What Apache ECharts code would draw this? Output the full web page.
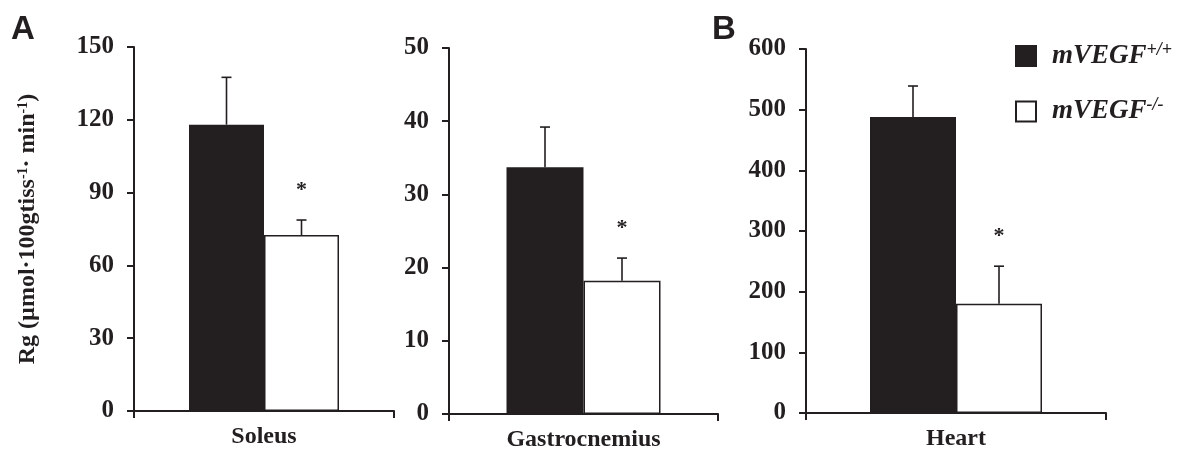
<!DOCTYPE html>
<html lang="en">
<head>
    <meta charset="UTF-8">
    <title>Rg bars</title>
    <script type="text/javascript" src="https://cdn.jsdelivr.net/npm/echarts@6/dist/echarts.min.js"></script>
</head>
<body style="margin:0;background:#fff;">
<div id="main" style="width:1186px;height:452px;"></div>
<script type="text/javascript">

    // data
    var categories = ['Soleus', 'Gastrocnemius', 'Heart'];
    var wtMean = [118, 33.7, 488];
    var wtErr = [19.5, 5.5, 51];
    var koMean = [72.5, 18.2, 180];
    var koErr = [6.2, 3.1, 62];
    var koSig = [true, true, true];
    var yMax = [150, 50, 600];
    var yStep = [30, 10, 100];
    var seriesNames = ['mVEGF+/+', 'mVEGF-/-'];

    var ink = '#231f20';
    var serif = '"Liberation Serif", "Times New Roman", serif';

    // panel layout (px)
    var grids = [
        {left: 134, right: 792, top: 47, bottom: 41, bw: 75},
        {left: 449, right: 468, top: 48, bottom: 38, bw: 77},
        {left: 806, right: 80, top: 49, bottom: 39, bw: 86}
    ];

    function errRender(bw, side, star) {
        return function (params, api) {
            var cx = api.coord([api.value(0), 0])[0] + side * bw / 2;
            var yBar = api.coord([api.value(0), api.value(1)])[1];
            var yTop = api.coord([api.value(0), api.value(1) + api.value(2)])[1];
            var st = {stroke: ink, lineWidth: 1.6};
            var kids = [
                {type: 'line', shape: {x1: cx, y1: yBar, x2: cx, y2: yTop}, style: st},
                {type: 'line', shape: {x1: cx - 5, y1: yTop, x2: cx + 5, y2: yTop}, style: st}
            ];
            if (star && api.value(3)) {
                kids.push({
                    type: 'text',
                    style: {
                        x: cx, y: yTop - 30, text: '*', align: 'center', verticalAlign: 'middle',
                        font: 'bold 22px ' + serif, fill: ink
                    }
                });
            }
            return {type: 'group', children: kids};
        };
    }

    var myChart = echarts.init(document.getElementById('main'));

    var gridOpt = [], xAxes = [], yAxes = [], series = [];
    grids.forEach(function (g, i) {
        gridOpt.push({left: g.left, right: g.right, top: g.top, bottom: g.bottom});
        xAxes.push({
            type: 'category',
            gridIndex: i,
            data: [categories[i]],
            axisLine: {show: true, lineStyle: {color: ink, width: 2}},
            axisTick: {show: true, length: 7, lineStyle: {color: ink, width: 2}},
            axisLabel: {
                margin: 14, color: ink, fontFamily: serif, fontWeight: 'bold', fontSize: 24
            },
            splitLine: {show: false}
        });
        var ya = {
            type: 'value',
            gridIndex: i,
            min: 0,
            max: yMax[i],
            interval: yStep[i],
            axisLine: {show: true, lineStyle: {color: ink, width: 2}},
            axisTick: {show: true, length: 7, lineStyle: {color: ink, width: 2}},
            axisLabel: {
                margin: 20, color: ink, fontFamily: serif, fontWeight: 'bold', fontSize: 25
            },
            splitLine: {show: false}
        };
        if (i === 0) {
            ya.name = 'Rg (\u00b5mol\u00b7100gtiss{s|-1}\u00b7 min{s|-1})';
            ya.nameLocation = 'middle';
            ya.nameRotate = 90;
            ya.nameGap = 94;
            ya.nameTextStyle = {
                color: ink, fontFamily: serif, fontWeight: 'bold', fontSize: 24,
                rich: {
                    s: {fontFamily: serif, fontWeight: 'bold', fontSize: 14, color: ink, verticalAlign: 'top', lineHeight: 24}
                }
            };
        }
        yAxes.push(ya);

        series.push({
            name: seriesNames[0], type: 'bar', xAxisIndex: i, yAxisIndex: i,
            data: [wtMean[i]], barWidth: g.bw, barGap: '0%',
            itemStyle: {color: ink, borderColor: ink, borderWidth: 1.5}
        });
        series.push({
            name: seriesNames[1], type: 'bar', xAxisIndex: i, yAxisIndex: i,
            data: [koMean[i]], barWidth: g.bw, barGap: '0%',
            itemStyle: {color: '#ffffff', borderColor: ink, borderWidth: 1.5}
        });
        series.push({
            type: 'custom', xAxisIndex: i, yAxisIndex: i, z: 5, silent: true,
            renderItem: errRender(g.bw, -1, false),
            data: [[0, wtMean[i], wtErr[i], 0]]
        });
        series.push({
            type: 'custom', xAxisIndex: i, yAxisIndex: i, z: 5, silent: true,
            renderItem: errRender(g.bw, 1, true),
            data: [[0, koMean[i], koErr[i], koSig[i] ? 1 : 0]]
        });
    });

    var option = {
        animation: false,
        backgroundColor: '#ffffff',
        grid: gridOpt,
        xAxis: xAxes,
        yAxis: yAxes,
        legend: {
            data: seriesNames,
            orient: 'vertical',
            left: 1010,
            top: 36,
            icon: 'rect',
            itemWidth: 20,
            itemHeight: 20,
            itemGap: 27,
            selectedMode: false,
            formatter: function (name) {
                return '{a|mVEGF}{s|' + name.slice(5) + '}';
            },
            textStyle: {
                rich: {
                    a: {fontFamily: serif, fontWeight: 'bold', fontStyle: 'italic', fontSize: 27, color: ink, padding: [0, 0, 0, 11], lineHeight: 30},
                    s: {fontFamily: serif, fontWeight: 'bold', fontStyle: 'italic', fontSize: 18, color: ink, verticalAlign: 'top', lineHeight: 18}
                }
            }
        },
        graphic: [
            {type: 'text', left: 11, top: 13, style: {text: 'A', font: 'bold 33px "Liberation Sans", Arial, sans-serif', fill: ink}},
            {type: 'text', left: 712, top: 13, style: {text: 'B', font: 'bold 33px "Liberation Sans", Arial, sans-serif', fill: ink}}
        ],
        series: series
    };

    option && myChart.setOption(option);

</script>
</body>
</html>
